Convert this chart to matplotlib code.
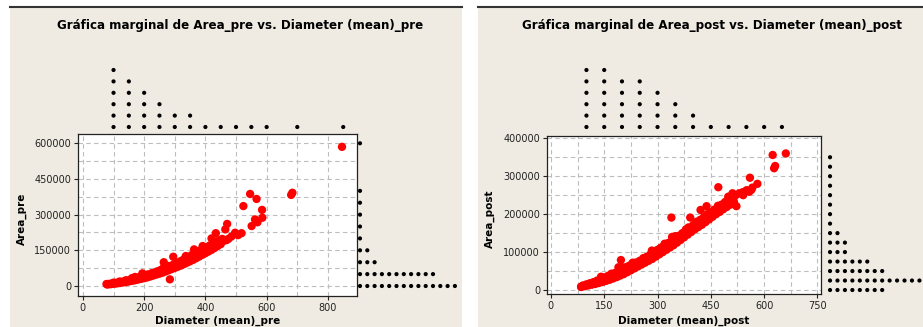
import matplotlib
matplotlib.use('Agg')
import matplotlib.pyplot as plt
from matplotlib.patches import Rectangle
from matplotlib.lines import Line2D

# ---- data ----
# pre: scatter (band + stragglers)
diam_pre = [80, 90, 100, 110, 120, 130, 140, 150, 160, 170, 180, 190, 200, 210, 220, 230, 240, 250, 260,
            270, 280, 290, 300, 310, 320, 330, 340, 350, 360, 370, 380, 390, 400, 410, 420, 430, 440, 450,
            85, 95, 105, 115, 125, 135, 145, 155, 165, 175, 185, 195, 205, 215, 225, 235, 245, 255, 265,
            275, 285, 295, 305, 315, 325, 335, 345, 355, 365, 375, 385, 395, 405, 415, 425, 435, 445, 455,
            100, 120, 140, 160, 170, 180, 195, 210, 225, 240, 255, 265, 280, 295, 310, 320, 330, 345, 355,
            370, 380, 400, 410, 430, 445, 460, 475, 485,
            846, 680, 684, 546, 567, 524, 585, 562, 551, 586, 570, 471, 465, 518, 497, 507, 434, 469, 456,
            420, 391, 363, 336, 295, 264, 284, 194, 77]
area_pre = [6000, 7500, 9000, 10500, 12500, 14500, 16500, 19000, 21500, 24000, 27000, 30000, 33000, 36000,
            40000, 44000, 48000, 52000, 56000, 61000, 66000, 71000, 76000, 81000, 86000, 92000, 98000, 104000,
            110000, 117000, 124000, 131000, 138000, 145000, 152000, 160000, 168000, 176000,
            9000, 11000, 13000, 15000, 17000, 20000, 23000, 26000, 30000, 33000, 36000, 40000, 44000, 48000,
            52000, 57000, 62000, 67000, 72000, 77000, 83000, 88000, 94000, 100000, 107000, 113000, 120000,
            127000, 134000, 141000, 149000, 157000, 164000, 171000, 179000, 186000, 192000, 198000,
            14000, 19000, 24000, 33000, 38000, 36000, 44000, 48000, 54000, 60000, 68000, 80000, 84000, 90000,
            98000, 105000, 112000, 120000, 130000, 138000, 148000, 160000, 165000, 175000, 185000, 190000,
            198000, 208000,
            585000, 383000, 392000, 387000, 366000, 336000, 320000, 280000, 252000, 287000, 268000, 261000,
            238000, 222000, 224000, 214000, 222000, 193000, 193000, 200000, 168000, 154000, 126000, 123000,
            100000, 28000, 53000, 8400]

# post: scatter
diam_post = [85, 95, 105, 115, 125, 135, 145, 155, 165, 175, 185, 195, 205, 215, 225, 235, 245, 255, 265,
             275, 285, 295, 305, 315, 325, 335, 345, 355, 365, 375, 385, 395, 405, 415, 425, 435, 445, 455,
             465, 475, 485, 495, 505, 515,
             90, 100, 110, 120, 130, 140, 150, 160, 170, 180, 190, 200, 210, 220, 230, 240, 250, 260, 270,
             280, 290, 300, 310, 320, 330, 340, 350, 360, 370, 380, 390, 400, 410, 420, 430, 440, 450, 460,
             470, 480, 490, 500, 510, 520, 530, 540, 550,
             150, 180, 210, 240, 270, 300, 330, 360, 390, 420, 450, 480, 510,
             170, 200, 230, 260, 290, 320, 350, 380, 410, 440, 470, 500,
             661, 624, 631, 628, 560, 581, 471, 511, 499, 551, 558, 541, 522, 438, 421, 474, 339, 392, 341,
             346, 367, 387, 308, 284, 263, 197, 238, 190, 141, 85, 564, 567]
area_post = [8000, 10000, 12000, 14000, 16000, 18500, 21000, 24000, 27000, 30500, 34000, 38000, 42000, 47000,
             52000, 57000, 62000, 67000, 72000, 77000, 82000, 88000, 94000, 100000, 106000, 112000, 118000,
             125000, 132000, 139000, 146000, 153000, 160000, 166000, 172000, 179000, 186000, 193000, 200000,
             206000, 213000, 219000, 225000, 232000,
             12000, 15000, 18000, 21000, 25000, 29000, 33000, 37000, 41000, 45000, 50000, 55000, 60000, 64000,
             68000, 72000, 77000, 82000, 88000, 94000, 100000, 106000, 112000, 118000, 124000, 130000, 136000,
             143000, 150000, 157000, 164000, 171000, 178000, 185000, 192000, 198000, 205000, 212000, 218000,
             225000, 232000, 238000, 244000, 250000, 255000, 258000, 262000,
             28000, 40000, 52000, 66000, 80000, 98000, 116000, 137000, 160000, 182000, 199000, 218000, 238000,
             43000, 60000, 72000, 84000, 100000, 122000, 142000, 160000, 180000, 200000, 222000, 242000,
             360000, 356000, 327000, 321000, 296000, 280000, 271000, 255000, 246000, 263000, 259000, 250000,
             221000, 221000, 211000, 219000, 191000, 191000, 140000, 136000, 145000, 165000, 110000, 104000,
             84000, 79000, 72000, 60000, 35000, 8700, 264000, 270000]

# marginal dotplots: bin centres and number of stacked dots
top_bins_pre = [100, 150, 200, 250, 300, 350, 400, 450, 500, 550, 600, 700, 850]
top_counts_pre = [6, 5, 4, 3, 2, 2, 1, 1, 1, 1, 1, 1, 1]
side_bins_pre = [0, 50000, 100000, 150000, 200000, 250000, 300000, 350000, 400000, 600000]
side_counts_pre = [14, 11, 3, 2, 1, 1, 1, 1, 1, 1]

top_bins_post = [100, 150, 200, 250, 300, 350, 400, 450, 500, 550, 600, 650]
top_counts_post = [6, 6, 5, 5, 4, 3, 2, 1, 1, 1, 1, 1]
side_bins_post = [0, 25000, 50000, 75000, 100000, 125000, 150000, 175000, 200000, 225000, 250000,
                  275000, 300000, 325000, 350000]
side_counts_post = [8, 13, 8, 6, 3, 3, 2, 1, 1, 1, 1, 1, 1, 1, 1]

W, H = 923, 327
fig = plt.figure(figsize=(W / 100, H / 100), dpi=100)
fig.patch.set_facecolor('white')
beige = '#EFEBE2'


def box(x0, y0, x1, y1):
    # axes from pixel box (top-left origin)
    return fig.add_axes([x0 / W, 1 - y1 / H, (x1 - x0) / W, (y1 - y0) / H])


for x0, x1 in [(10, 462), (478, 923)]:
    fig.add_artist(Rectangle((x0 / W, 0), (x1 - x0) / W, 1 - 7 / H, transform=fig.transFigure,
                             facecolor=beige, edgecolor='none', zorder=0))
    fig.add_artist(Line2D([x0 / W, x1 / W], [1 - 7 / H] * 2, transform=fig.transFigure,
                          color='#333333', lw=1.5))


def panel(sc_box, xlim, ylim, xticks, xminor, yticks, yminor, diam, area,
          top_bins, top_counts, side_box, side_bins, side_counts, side_cols,
          title, title_x, xlabel, ylabel, ylabel_x):
    ax = box(*sc_box)
    ax.set_facecolor('white')
    ax.scatter(diam, area, s=36, color='#FF0000', edgecolors='none', zorder=3)
    ax.set_xlim(xlim)
    ax.set_ylim(ylim)
    ax.set_xticks(xticks)
    ax.set_xticks(xminor, minor=True)
    ax.set_yticks(yticks)
    ax.set_yticks(yminor, minor=True)
    ax.set_xticklabels([str(v) for v in xticks])
    ax.set_yticklabels([str(v) for v in yticks])
    ax.tick_params(which='major', length=3, width=0.8, pad=2, labelsize=7, colors='#222222')
    ax.tick_params(which='minor', length=0)
    ax.grid(which='both', color='#BDBDBD', linestyle=(0, (4, 3)), linewidth=0.8)
    ax.set_axisbelow(True)
    for sp in ax.spines.values():
        sp.set_color('#222222')
        sp.set_linewidth(0.9)

    # top dotplot
    at = box(sc_box[0], 64.3, sc_box[2], 132.7)
    at.set_xlim(xlim)
    at.set_ylim(-0.5, 5.5)
    at.axis('off')
    xs, ys = [], []
    for b, c in zip(top_bins, top_counts):
        for k in range(c):
            xs.append(b)
            ys.append(k)
    at.scatter(xs, ys, s=9, color='black', edgecolors='none', clip_on=False)

    # side dotplot
    asd = box(*side_box)
    asd.set_xlim(-0.5, side_cols - 0.5)
    asd.set_ylim(ylim)
    asd.axis('off')
    xs, ys = [], []
    for b, c in zip(side_bins, side_counts):
        for k in range(c):
            xs.append(k)
            ys.append(b)
    asd.scatter(xs, ys, s=9, color='black', edgecolors='none', clip_on=False)

    cx = (sc_box[0] + sc_box[2]) / 2
    cy = (sc_box[1] + sc_box[3]) / 2
    fig.text(title_x / W, 1 - 25 / H, title, ha='center', va='center', fontsize=8.6, fontweight='bold')
    fig.text(cx / W, 1 - 321 / H, xlabel, ha='center', va='center', fontsize=7.5, fontweight='bold')
    fig.text(ylabel_x / W, 1 - (cy + 4) / H, ylabel, ha='center', va='center', rotation=90,
             fontsize=7.5, fontweight='bold')


panel((78, 134, 357, 296), (-16, 895), (-42000, 639000),
      [0, 200, 400, 600, 800], [100, 300, 500, 700],
      [0, 150000, 300000, 450000, 600000], [75000, 225000, 375000, 525000],
      diam_pre, area_pre, top_bins_pre, top_counts_pre,
      (356.35, 134, 458.55, 296), side_bins_pre, side_counts_pre, 14,
      'Gráfica marginal de Area_pre vs. Diameter (mean)_pre', 240,
      'Diameter (mean)_pre', 'Area_pre', 22)

panel((547, 136, 821, 294), (-11, 760), (-10500, 406000),
      [0, 150, 300, 450, 600, 750], [75, 225, 375, 525, 675],
      [0, 100000, 200000, 300000, 400000], [50000, 150000, 250000, 350000],
      diam_post, area_post, top_bins_post, top_counts_post,
      (826.3, 136, 923.15, 294), side_bins_post, side_counts_post, 13,
      'Gráfica marginal de Area_post vs. Diameter (mean)_post', 712,
      'Diameter (mean)_post', 'Area_post', 490)

fig.savefig('out.png', dpi=100, facecolor='white')
